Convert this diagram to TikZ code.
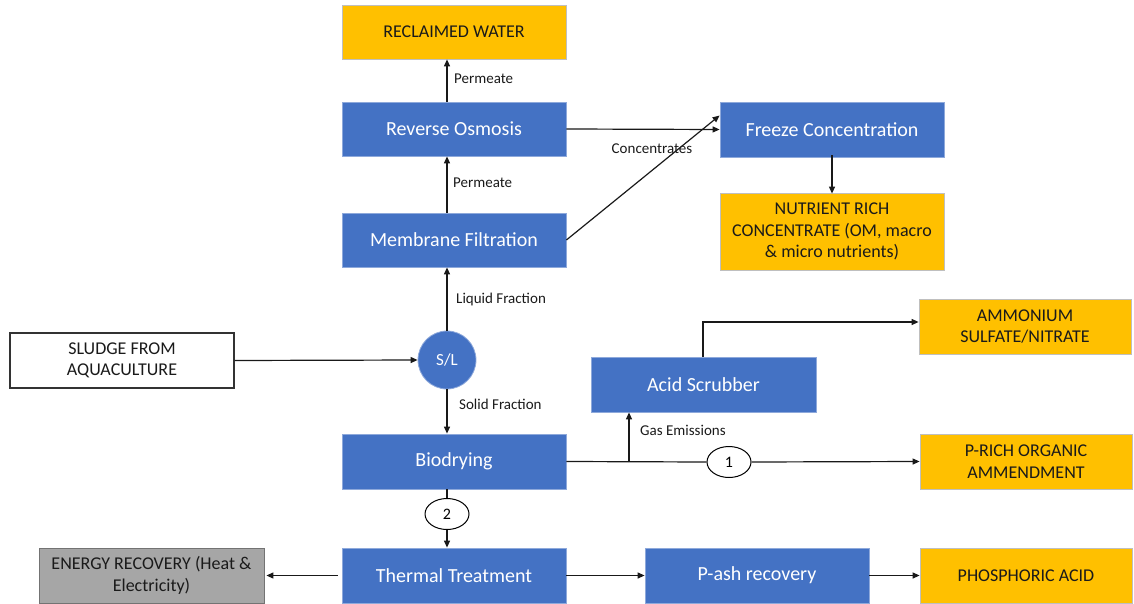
\documentclass[tikz,border=0pt]{standalone}
\usepackage{fontspec}
\setmainfont{Carlito}
\usetikzlibrary{arrows.meta,shapes.geometric}
\definecolor{bblue}{HTML}{4472C4}
\definecolor{bborder}{HTML}{8EA9DB}
\definecolor{yel}{HTML}{FFC000}
\definecolor{yborder}{HTML}{BFBFBF}
\definecolor{gry}{HTML}{A6A6A6}
\definecolor{txt}{HTML}{1A1A1A}
\tikzset{
  procbox/.style={draw=bborder, line width=0.8pt, fill=bblue, text=white, minimum width=224pt, minimum height=55pt, inner sep=0pt, font=\fontsize{20}{23}\selectfont},
  prodbox/.style={draw=yborder, line width=0.8pt, fill=yel, text=txt, minimum width=212pt, minimum height=55pt, inner sep=0pt, align=center, font=\fontsize{18}{21.5}\selectfont},
  inbox/.style={draw=black!80, line width=1.2pt, fill=white, text=txt, minimum width=224pt, minimum height=55pt, inner sep=0pt, align=center, font=\fontsize{18}{21.5}\selectfont},
  numell/.style={ellipse, draw=black, line width=1pt, fill=white, minimum width=44pt, minimum height=31pt, inner sep=0pt, font=\fontsize{16}{18}\selectfont},
  flow/.style={draw=black!90, line width=1.2pt, -{Triangle[length=7pt,width=6pt]}},
  plain/.style={draw=black!90, line width=1.2pt},
  lbl/.style={font=\fontsize{15}{17}\selectfont, text=txt, inner sep=0pt}
}
\begin{document}
\begin{tikzpicture}[x=1pt,y=-1pt]
\useasboundingbox (0,0) rectangle (1134,604);
% nodes
\node[prodbox, minimum width=224pt, minimum height=54pt] (rw) at (454,32) {RECLAIMED WATER};
\node[procbox, minimum height=54pt] (ro) at (454,129) {Reverse Osmosis};
\node[procbox, minimum height=54pt] (mf) at (454,240) {Membrane Filtration};
\node[procbox] (fc) at (832,129.5) {Freeze Concentration};
\node[prodbox, minimum width=224pt, minimum height=77pt] (nr) at (832,231.5) {NUTRIENT RICH\\CONCENTRATE (OM, macro\\\& micro nutrients)};
\node[inbox] (sl) at (122,360.5) {SLUDGE FROM\\AQUACULTURE};
\node[circle, fill=bblue, draw=bborder, line width=0.8pt, minimum size=58pt, inner sep=0pt, text=white, font=\fontsize{17}{20}\selectfont] (sep) at (447,360) {S/L};
\node[procbox, minimum width=225pt] (as) at (703.5,384.5) {Acid Scrubber};
\node[prodbox] (am) at (1025,326.5) {AMMONIUM\\SULFATE/NITRATE};
\node[procbox] (bd) at (454,461.5) {Biodrying};
\node[prodbox] (pr) at (1026,461.5) {P-RICH ORGANIC\\AMMENDMENT};
\node[numell] (e1) at (729,462) {1};
\node[numell] (e2) at (447,514) {2};
\node[procbox] (tt) at (454,575.5) {Thermal Treatment};
\node[prodbox, fill=gry, draw=black!55, minimum width=225pt] (er) at (151.5,575.5) {ENERGY RECOVERY (Heat \&\\Electricity)};
\node[procbox] (pa) at (757,575.5) {P-ash recovery};
\node[prodbox] (ph) at (1026,575.5) {PHOSPHORIC ACID};
% helper coordinates
\coordinate (gas) at (629,462);
\coordinate (asTop) at (703,357);
\coordinate (asTurn) at (703,322);
% connectors
\draw[flow] (ro.north -| sep) -- (rw.south -| sep);
\draw[flow] (mf.north -| sep) -- (ro.south -| sep);
\draw[flow] (sep.north) -- (mf.south -| sep);
\draw[flow] (sl.east) -- (sep.west);
\draw[flow] (sep.south) -- (bd.north -| sep);
\draw[plain] (bd.south -| sep) -- (e2.north);
\draw[flow] (e2.south) -- (tt.north -| sep);
\draw[flow] ([xshift=-4pt]tt.west) -- ([xshift=2pt]er.east);
\draw[flow] (tt.east) -- (pa.west);
\draw[flow] (pa.east) -- (ph.west);
\draw[plain] (bd.east) -- (e1.west);
\draw[flow] (e1.east) -- (pr.west);
\draw[flow] (gas) -- (gas |- as.south);
\draw[flow] (asTop) -- (asTurn) -- (asTurn -| am.west);
\draw[flow] (ro.east) -- (fc.west);
\draw[flow] (mf.east) -- ([yshift=14pt]fc.west);
\draw[flow] ([yshift=2pt]fc.south) -- ([yshift=-1pt]nr.north);
% labels
\node[lbl, anchor=west] (l1) at (454,79) {Permeate};
\node[lbl, anchor=west] (l2) at (453,183) {Permeate};
\node[lbl] (l3) at (652,149) {Concentrates};
\node[lbl, anchor=west] (l4) at (456,299) {Liquid Fraction};
\node[lbl, anchor=west] (l5) at (459,404) {Solid Fraction};
\node[lbl, anchor=west] (l6) at (640,430) {Gas Emissions};
\end{tikzpicture}
\end{document}
